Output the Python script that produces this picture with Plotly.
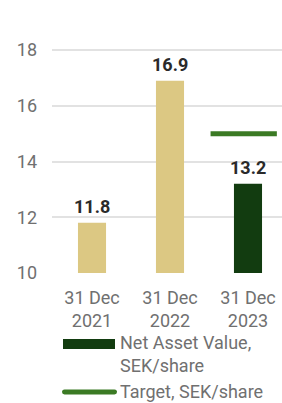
import plotly.graph_objects as go

CATEGORIES = ["31 Dec<br>2021", "31 Dec<br>2022", "31 Dec<br>2023"]
NAV_VALUES = [11.8, 16.9, 13.2]
TARGET_VALUES = [None, None, 15.0]
Y_TICKS = [10, 12, 14, 16, 18]
LEGEND_NAMES = ["Net Asset Value,<br>SEK/share", "Target, SEK/share"]

BEIGE = "#dcc883"
DARK = "#123c10"
TARGET_C = "#3b7a24"
GRAY = "#707070"
FONT = "Roboto"

bar_colors = [BEIGE, BEIGE, DARK]
xs = list(range(len(CATEGORIES)))

fig = go.Figure()
fig.add_trace(go.Bar(x=xs, y=NAV_VALUES, width=0.36, marker_color=bar_colors,
                     marker_line_width=0, showlegend=False, hoverinfo="skip"))
for i, t in enumerate(TARGET_VALUES):
    if t is not None:
        fig.add_trace(go.Scatter(x=[i - 0.48, i + 0.37], y=[t, t], mode="lines",
                                 line=dict(color=TARGET_C, width=5),
                                 showlegend=False, hoverinfo="skip"))

for i, v in enumerate(NAV_VALUES):
    fig.add_annotation(x=i, y=v, text=f"<b>{v:.1f}</b>", showarrow=False,
                       yanchor="bottom", yshift=4,
                       font=dict(family=FONT, size=18, color="#2a2a2a"))

# manual legend
W = 230.0
H = 273.0
def px(p):
    return (p - 52) / W
def py(p):
    return (H - p) / H

def pt(x, y):
    return f"{px(x):.5f},{py(y):.5f}"

fig.add_shape(type="rect", xref="paper", yref="paper",
              x0=px(63), x1=px(115), y0=py(349), y1=py(339),
              fillcolor=DARK, line_width=0)
# rounded line swatch
path = ("M" + pt(64.5, 389.5) + " L" + pt(114.5, 389.5) +
        " Q" + pt(117, 389.5) + " " + pt(117, 392) +
        " Q" + pt(117, 394.5) + " " + pt(114.5, 394.5) +
        " L" + pt(64.5, 394.5) +
        " Q" + pt(62, 394.5) + " " + pt(62, 392) +
        " Q" + pt(62, 389.5) + " " + pt(64.5, 389.5) + " Z")
fig.add_shape(type="path", xref="paper", yref="paper", path=path,
              fillcolor=TARGET_C, line_width=0)
fig.add_annotation(xref="paper", yref="paper", x=px(118), y=py(330),
                   xanchor="left", yanchor="top", align="left",
                   text=LEGEND_NAMES[0], showarrow=False,
                   font=dict(family=FONT, size=18, color=GRAY))
fig.add_annotation(xref="paper", yref="paper", x=px(118), y=py(379),
                   xanchor="left", yanchor="top", align="left",
                   text=LEGEND_NAMES[1], showarrow=False,
                   font=dict(family=FONT, size=18, color=GRAY))

fig.update_layout(
    width=282, height=403,
    margin=dict(l=52, r=0, t=0, b=130),
    paper_bgcolor="white", plot_bgcolor="white",
    font=dict(family=FONT, size=18, color=GRAY),
    showlegend=False,
    xaxis=dict(range=[-0.513, 2.436], tickmode="array", tickvals=xs,
               ticktext=CATEGORIES, showgrid=False, zeroline=False,
               showline=False, ticks="", ticklabelstandoff=12,
               tickfont=dict(family=FONT, size=18, color=GRAY), fixedrange=True),
    yaxis=dict(range=[10, 19.794], tickmode="array", tickvals=Y_TICKS,
               showgrid=True, gridcolor="#e2e2e2", gridwidth=2,
               zeroline=False, showline=False, ticks="",
               ticklabelstandoff=14,
               tickfont=dict(family=FONT, size=18, color=GRAY), fixedrange=True),
)

fig.write_html("out.html", config={"displayModeBar": False},
               post_script="document.body.style.margin='0';document.body.style.overflow='hidden';")
